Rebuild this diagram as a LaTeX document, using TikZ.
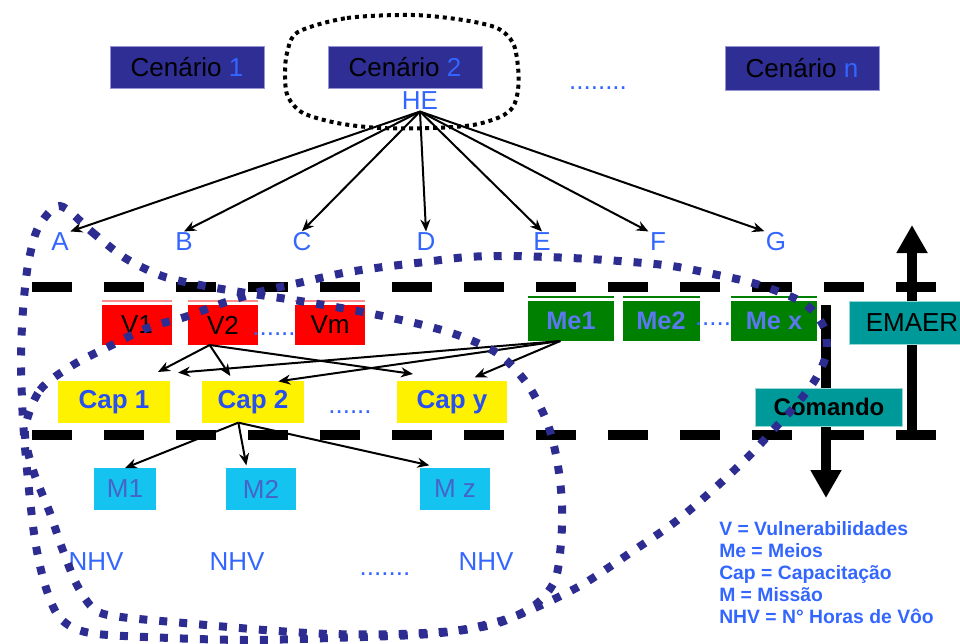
\documentclass[tikz,border=0pt]{standalone}
\usepackage{fontspec}
\setmainfont{Liberation Sans}
\usetikzlibrary{arrows.meta,positioning}
\definecolor{lblue}{RGB}{51,102,255}
\definecolor{scenblue}{RGB}{46,46,148}
\definecolor{scenrim}{RGB}{150,150,215}
\definecolor{loopblue}{RGB}{45,45,145}
\definecolor{megreen}{RGB}{0,128,0}
\definecolor{cmdteal}{RGB}{0,153,153}
\definecolor{miscyan}{RGB}{20,195,240}
\definecolor{metext}{RGB}{90,120,240}
\definecolor{mtext}{RGB}{70,100,200}
\definecolor{captext}{RGB}{40,80,240}
\tikzset{
    plain box/.style={inner sep=0pt, outer sep=0pt, minimum height=30pt},
    top line/.style={append after command={([yshift=3pt]\tikzlastnode.north west) edge[draw=#1, line width=2pt] ([yshift=3pt]\tikzlastnode.north east)}},
    scenario box/.style={plain box, fill=scenblue, draw=scenrim, thin, minimum width=115.5pt, minimum height=31.5pt},
    vuln box/.style={plain box, fill=red, minimum width=52.5pt, top line=red!45},
    means box/.style={plain box, fill=megreen, text=metext, font=\bfseries\fontsize{19}{22}\selectfont, top line=megreen},
    cmd box/.style={plain box, fill=cmdteal, draw=cmdteal!40, thin},
    cap box/.style={plain box, fill=yellow, text=captext, font=\bfseries\fontsize{19.5}{22}\selectfont, minimum height=31pt},
    mis box/.style={plain box, fill=miscyan, text=mtext, minimum height=31.5pt},
    lbl/.style={text=lblue, inner sep=1pt},
    dot fill/.style={text=lblue, inner sep=0pt},
    legend text/.style={text=lblue, font=\bfseries\fontsize{14.5}{16.5}\selectfont, align=left, inner sep=0pt},
    arr/.style={-{Stealth[length=9pt,width=7.5pt]}, line width=1.5pt},
    big arr/.style={-{Triangle[length=21pt,width=22pt]}, line width=7.5pt},
    level line/.style={line width=7.5pt, dash pattern=on 30pt off 24pt},
    group line/.style={loopblue, line width=6pt, dash pattern=on 6pt off 9pt},
    focus line/.style={line width=3pt, dash pattern=on 3pt off 3pt},
}
\tikzstyle{every node}=[font=\fontsize{19.5}{22}\selectfont]

\begin{document}
\begin{tikzpicture}[x=0.75pt,y=-0.75pt]
    \clip (0,0) rectangle (960,643);
    \draw[level line] (32,287) -- (936,287);
    \draw[level line] (32,435) -- (936,435);
    \coordinate (upfoot) at (912,430);
    \coordinate (uptop) at (912,225);
    \coordinate (downtop) at (826,305);
    \coordinate (downfoot) at (826,498);
    \draw[big arr] (upfoot) -- (uptop);
    \draw[big arr] (downtop) -- (downfoot);

    \node[scenario box] (cen1) at (187,67) {Cenário \textcolor{lblue}{1}};
    \node[scenario box] (cen2) at (405,67) {Cenário \textcolor{lblue}{2}};
    \node[dot fill] (cendots) at (598,88) {........};
    \node[scenario box, minimum height=33pt] (cenn) at (802,68) {Cenário \textcolor{lblue}{n}};
    \node[lbl] (he) at (420,101) {HE};
    \foreach \n/\x in {A/60,B/184,C/302,D/426,E/542,F/658,G/776}
        \node[lbl] (\n) at (\x,242) {\n};
    \foreach \n/\a in {A/north east,B/north,C/north,D/north,E/north,F/north west,G/north west}
        \draw[arr] (he.south) -- (\n.\a);

    \node[vuln box] (v1) at (137,325) {V1};
    \node[vuln box] (v2) at (223,325) {V2};
    \node[dot fill] (vdots) at (274,334) {......};
    \node[vuln box] (vm) at (330,325) {Vm};
    \node[means box, minimum width=64.5pt] (me1) at (571,321) {Me1};
    \node[means box, minimum width=57.75pt] (me2) at (661,321) {Me2};
    \node[dot fill] (medots) at (713,324) {.....};
    \node[means box, minimum width=64.5pt] (mex) at (774,321) {Me x};
    \node[cmd box, minimum width=94.5pt, minimum height=32pt] (emaer) at (912,323) {EMAER};
    \node[cmd box, minimum width=110pt, minimum height=28.5pt, font=\bfseries\fontsize{18}{22}\selectfont] (cmd) at (829,407) {Comando};

    \node[cap box, minimum width=84pt] (cap1) at (114,402) {Cap 1};
    \node[cap box, minimum width=76pt] (cap2) at (253,402) {Cap 2};
    \node[dot fill] (capdots) at (350,412) {......};
    \node[cap box, minimum width=82.5pt] (capy) at (452,402) {Cap y};

    \node[mis box, minimum width=47pt] (m1) at (125,489) {M1};
    \node[mis box, minimum width=52pt] (m2) at (261,489) {M2};
    \node[mis box, minimum width=52.5pt] (mz) at (455,489) {M z};

    \node[lbl] (h1) at (96,562) {NHV};
    \node[lbl] (h2) at (237,562) {NHV};
    \node[dot fill] (hdots) at (385,574) {.......};
    \node[lbl] (hz) at (486,562) {NHV};

    \node[legend text, anchor=north west] (legend) at (719,521)
        {V = Vulnerabilidades\\Me = Meios\\Cap = Capacitação\\M = Missão\\NHV = N° Horas de Vôo};

    \draw[arr] ([xshift=-10pt]v2.south) -- ([xshift=-9pt,yshift=7pt]cap1.north east);
    \draw[arr] ([xshift=-10pt]v2.south) -- ([xshift=-17pt,yshift=4pt]cap2.north);
    \draw[arr] ([xshift=-10pt]v2.south) -- ([xshift=12pt,yshift=5.5pt]capy.north west);
    \draw[arr] ([xshift=-8pt]me1.south) -- ([xshift=6pt,yshift=6.5pt]cap1.north east);
    \draw[arr] ([xshift=-8pt]me1.south) -- ([xshift=19pt]cap2.north);
    \draw[arr] ([xshift=-8pt]me1.south) -- ([xshift=17pt,yshift=3pt]capy.north);
    \draw[arr] ([xshift=-11pt]cap2.south) -- (m1.north);
    \draw[arr] ([xshift=-11pt]cap2.south) -- ([xshift=-11pt,yshift=2pt]m2.north);
    \draw[arr] ([xshift=-11pt]cap2.south) -- ([xshift=7pt,yshift=2pt]mz.north west);

    \draw[focus line] plot[smooth cycle] coordinates {(298,32) (347,18) (413,15) (463,20) (497,28) (513,43) (518,67) (518,90) (513,107) (500,117) (473,125) (433,128) (380,128) (337,123) (303,113) (288,97) (285,77) (287,53)};
    \draw[group line] plot[smooth cycle] coordinates {(25,430) (40,390) (73,365) (108,347) (147,328) (185,317) (223,303) (263,291) (303,282) (343,273) (383,267) (425,262) (467,257) (508,256) (548,257) (590,259) (632,262) (672,266) (713,274) (753,283) (792,297) (812,310) (825,330) (826,355) (815,380) (796,405) (775,428) (750,455) (715,488) (675,522) (630,553) (585,583) (548,602) (510,618) (460,630) (400,634) (330,634) (264,630) (184,623) (121,617) (95,610) (77,585) (62,548) (50,513) (33,470)};
    \draw[group line] plot[smooth cycle] coordinates {(60,206) (92,232) (125,258) (162,276) (200,285) (240,292) (300,301) (363,312) (423,325) (463,337) (500,355) (528,385) (547,422) (557,460) (562,503) (561,543) (555,580) (535,605) (495,624) (430,634) (330,638) (250,640) (170,638) (90,633) (60,618) (45,585) (35,540) (28,480) (23,420) (21,360) (23,310) (28,265) (38,228)};
\end{tikzpicture}
\end{document}
